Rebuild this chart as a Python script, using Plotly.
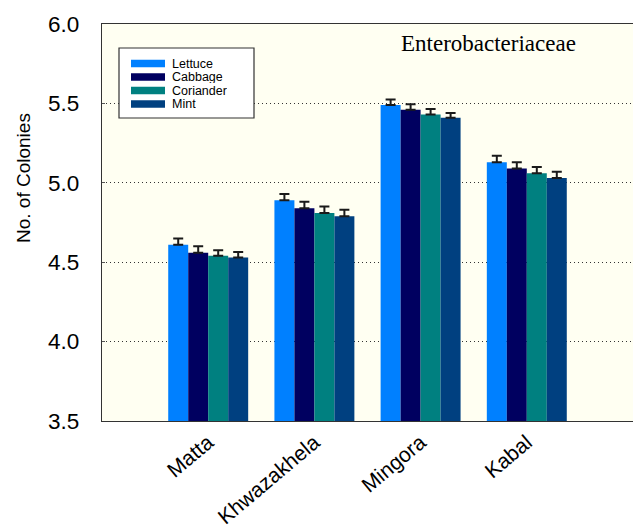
import plotly.graph_objects as go

sites = ["Matta", "Khwazakhela", "Mingora", "Kabal"]
series = ["Lettuce", "Cabbage", "Coriander", "Mint"]
colors = ["#0080FF", "#000060", "#008080", "#004080"]
values = {
    "Lettuce":   [4.61, 4.89, 5.49, 5.13],
    "Cabbage":   [4.56, 4.84, 5.46, 5.09],
    "Coriander": [4.54, 4.81, 5.43, 5.06],
    "Mint":      [4.53, 4.79, 5.41, 5.03],
}
errors = {
    "Lettuce":   [0.04, 0.04, 0.035, 0.04],
    "Cabbage":   [0.04, 0.04, 0.035, 0.04],
    "Coriander": [0.035, 0.04, 0.035, 0.04],
    "Mint":      [0.035, 0.04, 0.03, 0.04],
}
yticks = [3.5, 4.0, 4.5, 5.0, 5.5, 6.0]
ytick_text = ["3.5", "4.0", "4.5", "5.0", "5.5", "6.0"]
title_text = "Enterobacteriaceae"
ylabel = "No. of Colonies"

W, H = 633, 530
ML, MR, MT, MB = 102, 0, 24, 109
PW, PH = W - ML - MR, H - MT - MB


def px(x):
    return (x - ML) / PW


def py(y):
    return (H - MB - y) / PH


fig = go.Figure()
for s, c in zip(series, colors):
    fig.add_trace(go.Bar(
        name=s, x=sites, y=values[s], marker=dict(color=c, line=dict(width=0)),
        error_y=dict(type="data", array=errors[s], arrayminus=[0] * len(sites),
                     symmetric=False, color="#1a1a1a", thickness=2, width=5),
    ))

shapes = []
annotations = []
# legend box
shapes.append(dict(type="rect", xref="paper", yref="paper",
                   x0=px(119), x1=px(254), y0=py(118), y1=py(48),
                   fillcolor="white", line=dict(color="#333333", width=1.2), layer="above"))
for i, (s, c) in enumerate(zip(series, colors)):
    yc = 63.5 + i * 13.5
    shapes.append(dict(type="rect", xref="paper", yref="paper",
                       x0=px(131), x1=px(165), y0=py(yc + 3.7), y1=py(yc - 3.7),
                       fillcolor=c, line=dict(width=0), layer="above"))
    annotations.append(dict(text=s, xref="paper", yref="paper", x=px(171), y=py(yc),
                            xanchor="left", yanchor="middle", showarrow=False,
                            height=13, valign="middle", borderpad=0,
                            font=dict(size=12.5, family="Liberation Sans, Arial, sans-serif")))

annotations.append(dict(text=title_text, x=px(489), y=py(43), xref="paper", yref="paper",
                        xanchor="center", yanchor="middle", showarrow=False,
                        font=dict(family="Liberation Serif, Times New Roman, serif", size=23)))
annotations.append(dict(text=ylabel, x=px(23), y=py(178), xref="paper", yref="paper",
                        xanchor="center", yanchor="middle", showarrow=False, textangle=-90,
                        font=dict(family="Liberation Sans, Arial, sans-serif", size=19)))

fig.update_layout(
    width=W, height=H,
    margin=dict(l=ML, r=MR, t=MT, b=MB, autoexpand=False),
    paper_bgcolor="white", plot_bgcolor="#FFFFF2",
    barmode="group", bargap=0.247, bargroupgap=0,
    font=dict(family="Liberation Sans, Arial, sans-serif", color="black"),
    showlegend=False,
    xaxis=dict(type="category", range=[-1, 4], tickangle=-40, automargin=False,
               tickfont=dict(size=21), showline=True, linecolor="#333333",
               linewidth=1.2, mirror=True, ticks="", showgrid=False),
    yaxis=dict(range=[3.5, 6.0], tickvals=yticks, ticktext=ytick_text, automargin=False,
               tickfont=dict(size=22.5), showline=True, linecolor="#333333",
               linewidth=1.2, ticks="inside", ticklen=3, tickcolor="#555555",
               ticklabelstandoff=17,
               showgrid=True, gridcolor="#333333", griddash="1px,3px", gridwidth=1,
               zeroline=False),
    shapes=shapes,
    annotations=annotations,
)

fig.write_html("out.html")
